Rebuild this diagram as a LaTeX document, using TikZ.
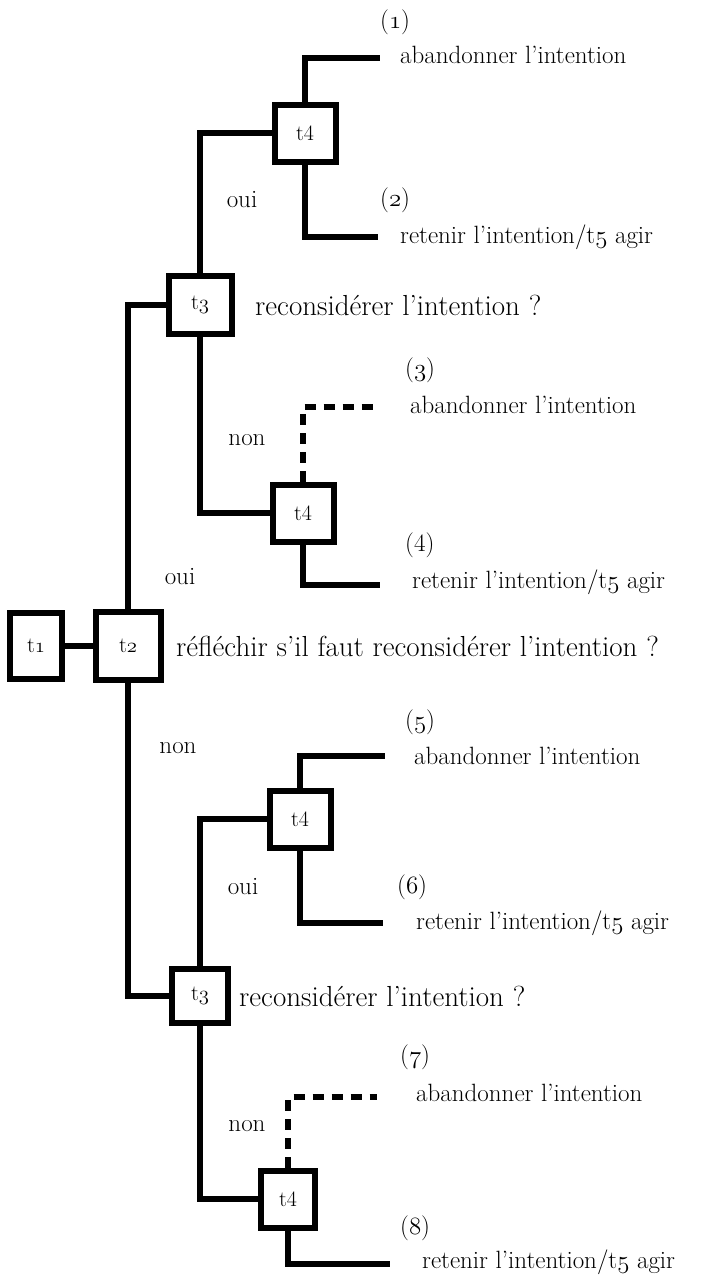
\documentclass[tikz,border=0pt]{standalone}
\usepackage{tikz}
\newcommand{\osn}[1]{{\usefont{OML}{cmm}{m}{it}#1}}

\begin{document}
\begin{tikzpicture}[x=1pt, y=-1pt,
	box/.style={draw, line width=6pt, minimum width=61pt, minimum height=57pt, inner sep=0pt, font=\fontsize{22}{26}\selectfont},
	link/.style={line width=6pt},
	dlink/.style={line width=5.5pt, dash pattern=on 11pt off 8pt},
	txt/.style={anchor=west, inner sep=0pt, font=\fontsize{25}{30}\selectfont},
	quest/.style={anchor=west, inner sep=0pt, font=\fontsize{29}{34}\selectfont}]
	\useasboundingbox (0,0) rectangle (714,1283);

	% boxes
	\node[box, minimum width=52pt, minimum height=66pt] (t1) at (36,646) {t\osn{1}};
	\node[box, minimum width=65pt, minimum height=68pt] (t2) at (128,646) {t\osn{2}};
	\node[box, minimum width=63pt, minimum height=58pt] (t3a) at (200,305) {t\osn{3}};
	\node[box, minimum width=56pt, minimum height=54pt] (t3b) at (200,996) {t\osn{3}};
	\node[box] (t4a) at (305,133) {t4};
	\node[box] (t4b) at (303,513) {t4};
	\node[box] (t4c) at (300,819) {t4};
	\node[box, minimum width=54pt] (t4d) at (288,1199) {t4};

	% free ends
	\coordinate (e1) at (380,58);
	\coordinate (e2) at (378,237);
	\coordinate (e3) at (378,407);
	\coordinate (e4) at (380,585);
	\coordinate (e5) at (385,756);
	\coordinate (e6) at (383,923);
	\coordinate (e7) at (377,1097);
	\coordinate (e8) at (390,1264);

	% tree
	\draw[link] (t1) -- (t2);
	\draw[link] (t2.north) |- (t3a.west);
	\draw[link] (t2.south) |- (t3b.west);
	\draw[link] (t3a.north) |- (t4a.west);
	\draw[link] (t3a.south) |- (t4b.west);
	\draw[link] (t3b.north) |- (t4c.west);
	\draw[link] (t3b.south) |- (t4d.west);
	\draw[link] (t4a.north) |- (e1);
	\draw[link] (t4a.south) |- (e2);
	\draw[dlink] (t4b.north) |- (e3);
	\draw[link] (t4b.south) |- (e4);
	\draw[link] (t4c.north) |- (e5);
	\draw[link] (t4c.south) |- (e6);
	\draw[dlink] (t4d.north) |- (e7);
	\draw[link] (t4d.south) |- (e8);

	% questions
	\node[quest] (q2) at (176,646) {réfléchir s'il faut reconsidérer l'intention ?};
	\node[quest] (q3a) at (255,305) {reconsidérer l'intention ?};
	\node[quest] (q3b) at (239,996) {reconsidérer l'intention ?};

	% oui / non
	\node[txt, anchor=center] (oa) at (242,200) {oui};
	\node[txt, anchor=center] (na) at (247,440) {non};
	\node[txt, anchor=center] (ob) at (180,577) {oui};
	\node[txt, anchor=center] (nb) at (178,748) {non};
	\node[txt, anchor=center] (oc) at (243,887) {oui};
	\node[txt, anchor=center] (nc) at (247,1126) {non};

	% outcomes
	\node[txt] (n1) at (380,22) {(\osn{1})};
	\node[txt] (r1) at (400,55) {abandonner l'intention};
	\node[txt] (n2) at (380,200) {(\osn{2})};
	\node[txt] (r2) at (400,237) {retenir l'intention/t\osn{5} agir};
	\node[txt] (n3) at (405,370) {(\osn{3})};
	\node[txt] (r3) at (410,405) {abandonner l'intention};
	\node[txt] (n4) at (405,545) {(4)};
	\node[txt] (r4) at (412,582) {retenir l'intention/t\osn{5} agir};
	\node[txt] (n5) at (405,722) {(\osn{5})};
	\node[txt] (r5) at (414,756) {abandonner l'intention};
	\node[txt] (n6) at (397,887) {(\osn{6})};
	\node[txt] (r6) at (416,923) {retenir l'intention/t\osn{5} agir};
	\node[txt] (n7) at (400,1057) {(\osn{7})};
	\node[txt] (r7) at (416,1093) {abandonner l'intention};
	\node[txt] (n8) at (400,1228) {(\osn{8})};
	\node[txt] (r8) at (422,1262) {retenir l'intention/t\osn{5} agir};

\end{tikzpicture}
\end{document}
